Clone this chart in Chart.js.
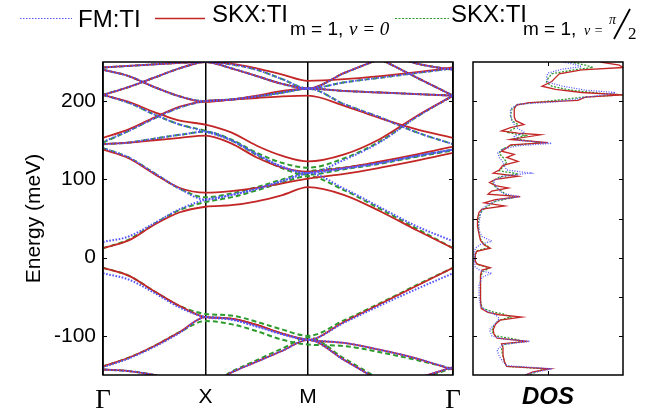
<!DOCTYPE html>
<html>
<head>
<meta charset="utf-8">
<script src="https://cdn.jsdelivr.net/npm/chart.js@4.4.0/dist/chart.umd.min.js"></script>
<style>
  body { margin: 0; background: #fff; }
  #wrap { position: relative; width: 662px; height: 418px; }
  #wrap canvas { position: absolute; left: 0; top: 0; }
</style>
</head>
<body>
<div id="wrap">
  <canvas id="bands" width="662" height="418"></canvas>
  <canvas id="dos" width="662" height="418"></canvas>
</div>
<script>
// k path G-X-M-G (units of pi/a), high symmetry points and labels
const kPath = [0, 0.25, 0.5, 0.75, 1, 1.25, 1.5, 1.75, 2, 2.354, 2.707, 3.061, 3.414];
const kTicks = [0, 1, 2, 3.414];
const kLabels = ['Γ', 'X', 'M', 'Γ'];
const energyTicks = [-100, 0, 100, 200];
const dosEnergyTicks = [-100, -50, 0, 50, 100, 150, 200];
const _ = null;

// band energies (meV) along kPath
const fmBands = [
  [20, 27, 44, 62, 74, 80, 88, 98, 108, 88, 64, 40, 21],
  [140, 128, 108, 88, 74, 80, 88, 98, 108, 114, 121, 130, 138],
  [145, 147, 152, 157, 161, 150, 132, 116, 108, 125, 148, 180, 207],
  [208, 198, 183, 170, 161, 150, 132, 116, 108, 114, 121, 130, 138],
  [148, 162, 178, 192, 200, 202, 206, 211, 216, 196, 179, 160, 145],
  [240, 232, 218, 206, 200, 202, 206, 211, 216, 213, 211, 209, 207],
  [208, 218, 230, 242, 250, 247, 240, 228, 216, 224, 230, 236, 242],
  [243, 245, 247, 249, 250, 242, 232, 222, 216, 236, 254, 270, 285],
  [_, _, _, _, _, _, _, _, 290, 270, 253, 230, 207],
  [_, _, _, _, _, _, _, _, 300, 280, 263, 248, 240],
  [-20, -28, -45, -64, -76, -79, -88, -98, -105, -83, -61, -40, -20],
  [-140, -129, -114, -96, -76, -79, -88, -98, -105, -109, -118, -129, -143],
  [-143, -145, -150, -158, -165, -147, -133, -119, -105, -131, -158, -185, -210],
  [_, _, _, _, _, _, _, _, -215, -195, -175, -155, -140]
];
const skx0Bands = [
  [12, 22, 42, 58, 65, 67, 72, 80, 90, 80, 59, 35, 12],
  [138, 127, 107, 89, 83, 85, 89, 95, 101, 107, 115, 124, 134],
  [145, 147, 150, 153, 156, 146, 128, 115, 110, 115, 123, 132, 142],
  [208, 199, 186, 175, 170, 160, 143, 130, 123, 132, 152, 181, 207],
  [153, 164, 179, 193, 200, 202, 204, 206, 207, 194, 178, 164, 153],
  [240, 232, 218, 206, 199, 202, 207, 213, 216, 213, 211, 209, 207],
  [208, 218, 230, 242, 250, 248, 242, 234, 226, 228, 232, 237, 243],
  [243, 245, 247, 249, 250, 242, 232, 222, 216, 236, 254, 270, 285],
  [_, _, _, _, _, _, _, _, 290, 270, 253, 230, 207],
  [_, _, _, _, _, _, _, _, 300, 280, 263, 248, 240],
  [-13, -23, -43, -62, -76, -78, -86, -97, -105, -82, -59, -36, -13],
  [-139, -128, -113, -95, -76, -78, -86, -97, -105, -109, -118, -129, -143],
  [-143, -145, -150, -158, -165, -147, -133, -119, -105, -131, -158, -185, -210],
  [_, _, _, _, _, _, _, _, -215, -195, -175, -155, -140]
];
const skxHalfBands = [
  [12, 23, 43, 61, 71, 77, 86, 96, 104, 86, 62, 37, 12],
  [140, 128, 108, 88, 77, 82, 90, 100, 110, 115, 122, 130, 138],
  [145, 147, 152, 157, 161, 151, 134, 121, 115, 127, 149, 180, 207],
  [208, 198, 183, 170, 162, 150, 131, 114, 106, 113, 120, 129, 137],
  [147, 162, 178, 192, 200, 202, 206, 211, 216, 196, 179, 160, 145],
  [240, 232, 218, 206, 200, 202, 206, 211, 216, 213, 211, 209, 207],
  [208, 218, 230, 242, 250, 247, 240, 228, 216, 224, 230, 236, 242],
  [243, 245, 247, 249, 250, 242, 232, 222, 216, 236, 254, 270, 285],
  [_, _, _, _, _, _, _, _, 290, 270, 253, 230, 207],
  [_, _, _, _, _, _, _, _, 300, 280, 263, 248, 240],
  [-13, -23, -43, -62, -72, -74, -82, -92, -100, -80, -58, -35, -13],
  [-139, -128, -113, -95, -81, -85, -94, -105, -111, -113, -121, -131, -142],
  [-143, -145, -150, -158, -165, -146, -131, -116, -102, -129, -156, -183, -208],
  [_, _, _, _, _, _, _, _, -218, -197, -177, -157, -141]
];

// density of states: [energy meV, DOS arb. units]
const dosFM = [
  [250, 1.2], [247, 1.35], [244, 1.45], [241, 1.2], [236, 1.0], [230, 0.98], [224, 1.0], [219, 1.2],
  [214, 1.5], [211, 1.9], [208, 1.75], [205, 1.5], [202, 1.35], [199, 1.1], [196, 0.6], [190, 0.5],
  [182, 0.5], [175, 0.52], [170, 0.55], [165, 0.6], [160, 0.69], [155, 0.55], [150, 0.6], [146, 1.05],
  [143, 0.6], [139, 0.4], [134, 0.33], [128, 0.35], [122, 0.4], [117, 0.42], [112, 0.45], [108, 0.76],
  [104, 0.4], [98, 0.27], [92, 0.3], [86, 0.35], [82, 0.4], [78, 0.62], [74, 0.35], [68, 0.2],
  [62, 0.12], [55, 0.1], [45, 0.08], [35, 0.08], [27, 0.12], [21, 0.25], [17, 0.1], [12, 0.03],
  [5, 0.02], [0, 0.02], [-5, 0.02], [-12, 0.03], [-17, 0.1], [-20, 0.25], [-25, 0.12], [-35, 0.08],
  [-50, 0.08], [-62, 0.1], [-68, 0.18], [-73, 0.3], [-78, 0.35], [-84, 0.3], [-92, 0.22], [-100, 0.25],
  [-104, 0.4], [-107, 0.76], [-111, 0.4], [-118, 0.32], [-126, 0.35], [-133, 0.4], [-138, 0.45], [-142, 1.05],
  [-145, 0.9], [-148, 0.75], [-150, 0.7]
];
const dosSkx0 = [
  [250, 1.7], [246, 1.95], [243, 2.0], [240, 1.45], [235, 1.15], [230, 1.1], [225, 1.05], [219, 0.92],
  [215, 1.1], [211, 1.45], [208, 2.0], [205, 1.5], [201, 1.4], [198, 0.75], [195, 0.58], [190, 0.55],
  [180, 0.55], [175, 0.57], [170, 0.68], [166, 0.5], [162, 0.38], [159, 0.6], [157, 0.9], [151, 0.5],
  [147, 1.0], [144, 0.5], [140, 0.45], [136, 0.38], [132, 0.55], [128, 0.45], [123, 0.6], [118, 0.4],
  [112, 0.35], [108, 0.27], [104, 0.6], [100, 0.3], [96, 0.22], [92, 0.3], [89, 0.47], [85, 0.25],
  [81, 0.2], [78, 0.63], [74, 0.3], [70, 0.15], [66, 0.42], [62, 0.12], [58, 0.08], [50, 0.06],
  [40, 0.06], [30, 0.08], [22, 0.1], [16, 0.15], [12, 0.23], [8, 0.05], [4, 0.03], [0, 0.03],
  [-4, 0.03], [-8, 0.05], [-13, 0.23], [-16, 0.12], [-22, 0.1], [-40, 0.1], [-55, 0.1], [-65, 0.11],
  [-70, 0.2], [-73, 0.35], [-76, 0.65], [-80, 0.36], [-85, 0.3], [-92, 0.27], [-98, 0.28], [-103, 0.32],
  [-107, 0.73], [-110, 0.38], [-115, 0.4], [-125, 0.4], [-133, 0.42], [-139, 0.45], [-142, 1.03], [-146, 0.8],
  [-150, 0.7]
];
const dosSkxHalf = [
  [250, 1.3], [246, 1.5], [243, 1.6], [240, 1.35], [235, 1.05], [229, 1.0], [224, 0.98], [219, 1.05],
  [214, 1.3], [210, 1.7], [208, 2.0], [205, 1.45], [202, 1.2], [199, 0.9], [196, 0.6], [190, 0.52],
  [182, 0.5], [175, 0.52], [170, 0.6], [165, 0.55], [160, 0.45], [156, 0.7], [152, 0.55], [147, 0.9],
  [143, 0.5], [138, 0.38], [133, 0.35], [128, 0.4], [122, 0.45], [116, 0.4], [111, 0.35], [107, 0.6],
  [103, 0.35], [97, 0.25], [90, 0.3], [85, 0.38], [80, 0.45], [77, 0.55], [72, 0.3], [66, 0.2],
  [60, 0.12], [52, 0.08], [42, 0.07], [32, 0.08], [24, 0.1], [18, 0.14], [13, 0.22], [9, 0.06],
  [4, 0.03], [0, 0.03], [-4, 0.03], [-9, 0.06], [-13, 0.22], [-18, 0.13], [-25, 0.1], [-40, 0.1],
  [-55, 0.1], [-64, 0.12], [-69, 0.25], [-72, 0.4], [-76, 0.5], [-80, 0.35], [-86, 0.28], [-94, 0.25],
  [-100, 0.3], [-104, 0.55], [-107, 0.68], [-111, 0.4], [-118, 0.38], [-126, 0.4], [-134, 0.42], [-139, 0.45],
  [-142, 0.95], [-146, 0.85], [-150, 0.75]
];

const BLUE = 'rgb(85,85,250)';
const RED = 'rgb(195,38,38)';
const GREEN = 'rgb(45,155,45)';
const SANS = "'Liberation Sans', Arial, sans-serif";
const SERIF = "'Liberation Serif', 'Times New Roman', serif";

const bandSets = (bands, color, dash, width) => bands.map(b => ({
  data: kPath.map((k, i) => ({ x: k, y: b[i] })),
  borderColor: color, borderDash: dash, borderWidth: width,
  pointRadius: 0, cubicInterpolationMode: 'monotone', spanGaps: false
}));
const dosSet = (pts, color, dash, width) => ({
  data: pts.map(p => ({ x: p[1], y: p[0] })),
  borderColor: color, borderDash: dash, borderWidth: width,
  pointRadius: 0, tension: 0
});

// frame around the plot area + inward ticks
const frame = {
  id: 'frame',
  afterDatasetsDraw(chart, args, opts) {
    const { ctx, chartArea: a, scales } = chart;
    ctx.save();
    ctx.setLineDash([]);
    ctx.strokeStyle = '#000';
    ctx.lineWidth = 1.5;
    ctx.strokeRect(a.left, a.top, a.right - a.left, a.bottom - a.top);
    ctx.lineWidth = 1;
    const t = 4;
    (opts.yTicks || []).forEach(v => {
      const y = Math.round(scales.y.getPixelForValue(v)) + 0.5;
      ctx.beginPath();
      ctx.moveTo(a.left, y); ctx.lineTo(a.left + t, y);
      ctx.moveTo(a.right, y); ctx.lineTo(a.right - t, y);
      ctx.stroke();
    });
    (opts.xTicks || []).forEach(v => {
      const x = Math.round(scales.x.getPixelForValue(v)) + 0.5;
      ctx.beginPath();
      ctx.moveTo(x, a.top); ctx.lineTo(x, a.top + t);
      ctx.moveTo(x, a.bottom); ctx.lineTo(x, a.bottom - t);
      ctx.stroke();
    });
    ctx.restore();
  }
};

// legend with subscripts
const legendText = {
  id: 'legendText',
  afterDraw(chart) {
    const ctx = chart.ctx;
    const line = (x0, x1, color, dash, w) => {
      ctx.beginPath();
      ctx.setLineDash(dash);
      ctx.strokeStyle = color;
      ctx.lineWidth = w;
      ctx.moveTo(x0, 18.5); ctx.lineTo(x1, 18.5);
      ctx.stroke();
    };
    ctx.save();
    ctx.fillStyle = '#000';
    ctx.textBaseline = 'alphabetic';
    line(20, 72, BLUE, [1.5, 1.5], 1.2);
    ctx.font = '24px ' + SANS;
    ctx.fillText('FM:TI', 78, 27);
    line(155, 205, RED, [], 1.5);
    ctx.fillText('SKX:TI', 212, 22);
    ctx.font = '19px ' + SANS;
    ctx.fillText('m = 1,', 290, 35);
    ctx.font = 'italic 19px ' + SERIF;
    ctx.fillText('ν = 0', 349, 35);
    line(395, 449, GREEN, [2, 1.5], 1.2);
    ctx.font = '24px ' + SANS;
    ctx.fillText('SKX:TI', 451, 22);
    ctx.font = '19px ' + SANS;
    ctx.fillText('m = 1,', 523, 35);
    ctx.font = 'italic 14px ' + SERIF;
    ctx.fillText('ν =', 584, 35);
    ctx.fillText('π', 609, 24);
    ctx.setLineDash([]);
    ctx.lineWidth = 1.8;
    ctx.strokeStyle = '#000';
    ctx.beginPath(); ctx.moveTo(614, 39); ctx.lineTo(630, 9); ctx.stroke();
    ctx.font = '17px ' + SERIF;
    ctx.fillText('2', 628, 39);
    ctx.restore();
  }
};

new Chart(document.getElementById('bands'), {
  type: 'line',
  data: {
    datasets: [
      ...bandSets(fmBands, BLUE, [1.6, 1.6], 2),
      ...bandSets(skx0Bands, RED, [], 1.8),
      ...bandSets(skxHalfBands, GREEN, [5, 3], 2)
    ]
  },
  options: {
    responsive: false,
    animation: false,
    layout: { padding: { left: 18, top: 62, right: 209, bottom: 0 } },
    plugins: { legend: { display: false }, tooltip: { enabled: false }, frame: { yTicks: energyTicks } },
    scales: {
      x: {
        type: 'linear', min: 0, max: 3.414,
        afterBuildTicks: s => { s.ticks = kTicks.map(v => ({ value: v })); },
        afterFit: s => { s.height = 43; },
        grid: { color: '#000', lineWidth: 1.5, drawTicks: false },
        border: { display: false },
        ticks: {
          autoSkip: false, maxRotation: 0, padding: 10, color: '#000',
          callback: (v, i) => kLabels[i],
          font: c => (c.index === 0 || c.index === 3)
            ? { family: SERIF, size: 27 } : { family: SANS, size: 21 }
        }
      },
      y: {
        type: 'linear', min: -150, max: 250,
        afterBuildTicks: s => { s.ticks = energyTicks.map(v => ({ value: v })); },
        afterFit: s => { s.width = 85; },
        grid: { display: false, drawTicks: false },
        border: { display: false },
        ticks: { padding: 7, color: '#000', font: { family: SANS, size: 21 } },
        title: { display: true, text: 'Energy (meV)', color: '#000', font: { family: SANS, size: 21 } }
      }
    }
  },
  plugins: [frame, legendText]
});

new Chart(document.getElementById('dos'), {
  type: 'line',
  data: {
    datasets: [
      dosSet(dosFM, BLUE, [1, 1.5], 1.3),
      dosSet(dosSkx0, RED, [], 1.3),
      dosSet(dosSkxHalf, GREEN, [2, 1.5], 1.3)
    ]
  },
  options: {
    responsive: false,
    animation: false,
    layout: { padding: { left: 473, top: 62, right: 39, bottom: 0 } },
    plugins: { legend: { display: false }, tooltip: { enabled: false }, frame: { yTicks: dosEnergyTicks, xTicks: [1] } },
    scales: {
      x: {
        type: 'linear', min: 0, max: 2,
        afterFit: s => { s.height = 43; },
        grid: { display: false },
        border: { display: false },
        ticks: { display: false },
        title: {
          display: true, text: 'DOS', color: '#000',
          font: { family: SANS, size: 24, weight: 'bold', style: 'italic' },
          padding: { top: 4, bottom: 6 }
        }
      },
      y: { type: 'linear', min: -150, max: 250, display: false }
    }
  },
  plugins: [frame]
});
</script>
</body>
</html>
